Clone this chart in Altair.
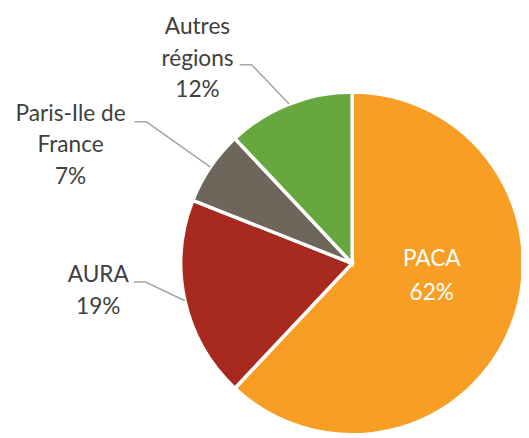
import math
import altair as alt
import pandas as pd

# ---- data ----
regions = ["PACA", "AURA", "Paris-Ile de France", "Autres régions"]
values = [62, 19, 7, 12]
label_texts = ["PACA\n62%", "AURA\n19%", "Paris-Ile de\nFrance\n7%", "Autres\nrégions\n12%"]
colors = ["#F89E24", "#A82A1F", "#6E665A", "#66A83E"]

# ---- layout (styling / annotation placement) ----
W, H = 521, 430
CX, CY, R = 349.5, 256, 174
# label anchor: fraction of radius along mid-angle, then offset of text anchor
label_rfrac = [0.5, 1.0, 1.0, 1.0]
label_dx = [0, -88, -142, -93]
label_dy = [-29, -19, -47, -71]
# leader elbow offsets from arc point (inner, outer) for outside labels
elbow_in = [None, (-40, -19), (-65, -46), (-38, -40)]
elbow_len = 12

total = sum(values)
rows, lab_rows, line_rows = [], [], []
cum = 0
for i, (reg, v) in enumerate(zip(regions, values)):
    mid = (cum + v / 2) / total * 2 * math.pi
    cum += v
    rows.append({"region": reg, "value": v, "order": i})
    rf = label_rfrac[i]
    px = CX + R * rf * math.sin(mid)
    py = CY - R * rf * math.cos(mid)
    lab_rows.append({"region": reg, "label": label_texts[i],
                     "x": px + label_dx[i], "y": py + label_dy[i],
                     "inside": rf < 1})
    if elbow_in[i] is not None:
        ex, ey = px + elbow_in[i][0], py + elbow_in[i][1]
        for k, (lx, ly) in enumerate([(px, py), (ex, ey), (ex - elbow_len, ey)]):
            line_rows.append({"region": reg, "k": k, "x": lx, "y": ly})

df = pd.DataFrame(rows)
lab = pd.DataFrame(lab_rows)
lines = pd.DataFrame(line_rows)

pie = alt.Chart(df).mark_arc(outerRadius=R, stroke="white", strokeWidth=3.5).encode(
    theta=alt.Theta("value:Q", stack=True),
    order=alt.Order("order:Q"),
    color=alt.Color("region:N", scale=alt.Scale(domain=regions, range=colors), legend=None),
    x=alt.value(CX),
    y=alt.value(CY),
)

leaders = alt.Chart(lines).mark_line(color="#A6A6A6", strokeWidth=1.5).encode(
    x=alt.X("x:Q", scale=None),
    y=alt.Y("y:Q", scale=None),
    detail="region:N",
    order="k:Q",
)

text_out = alt.Chart(lab[~lab.inside]).mark_text(
    font="Lato", fontSize=23, lineHeight=32, lineBreak="\n", align="center",
    baseline="alphabetic", color="#404040",
).encode(x=alt.X("x:Q", scale=None), y=alt.Y("y:Q", scale=None), text="label:N")

text_in = alt.Chart(lab[lab.inside]).mark_text(
    font="Lato", fontSize=23, lineHeight=34, lineBreak="\n", align="center",
    baseline="alphabetic", color="white",
).encode(x=alt.X("x:Q", scale=None), y=alt.Y("y:Q", scale=None), text="label:N")

chart = alt.layer(pie, leaders, text_out, text_in).properties(
    width=W, height=H, autosize=alt.AutoSizeParams(type="none"), padding=0,
).configure_view(stroke=None)

chart.save("out.html", embed_options={"renderer": "svg", "actions": False})
